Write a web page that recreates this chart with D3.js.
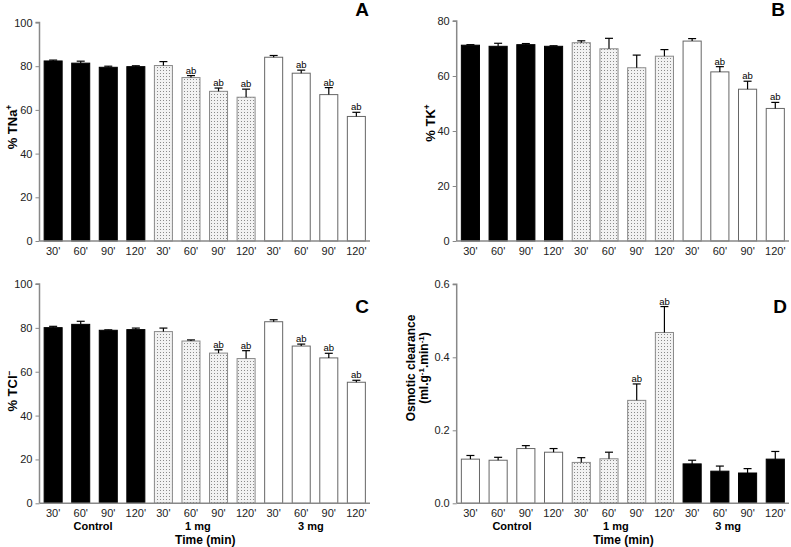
<!DOCTYPE html>
<html><head><meta charset="utf-8">
<script src="https://cdn.jsdelivr.net/npm/d3@7"></script>
<style>
body{margin:0;background:#fff;}
svg text{font-family:"Liberation Sans",Arial,Helvetica,sans-serif;}
</style>
</head><body>
<svg id="chart" width="791" height="547"></svg>
<script>
const timeLabels = ["30'","60'","90'","120'","30'","60'","90'","120'","30'","60'","90'","120'"];
const groupLabels = ["Control","1 mg","3 mg"];
const groupOfBar = [0,0,0,0,1,1,1,1,2,2,2,2];

const tnaMean = [82.4,81.4,79.5,79.8,80.3,74.8,68.5,65.8,84.1,76.8,67.0,57.0];
const tnaSem  = [0.4,0.9,0.5,0.4,1.8,0.9,1.5,3.7,0.8,1.4,3.2,1.9];
const tnaSig  = [0,0,0,0,0,1,1,1,0,1,1,1];

const tkMean = [71.2,70.8,71.4,70.8,72.1,69.9,63.0,67.2,72.7,61.5,55.2,48.2];
const tkSem  = [0.2,1.1,0.4,0.2,0.7,3.8,4.6,2.4,0.9,1.9,2.9,2.2];
const tkSig  = [0,0,0,0,0,0,0,0,0,1,1,1];

const tclMean = [80.1,81.6,78.9,79.2,78.3,74.0,68.5,66.0,82.8,71.7,66.3,55.2];
const tclSem  = [0.6,1.4,0.2,0.7,1.6,0.5,1.5,3.6,0.9,0.9,2.1,0.9];
const tclSig  = [0,0,0,0,0,0,1,1,0,1,1,1];

const oscMean = [0.121,0.118,0.150,0.140,0.112,0.122,0.282,0.468,0.108,0.088,0.083,0.121];
const oscSem  = [0.010,0.008,0.008,0.010,0.013,0.018,0.045,0.071,0.010,0.014,0.012,0.021];
const oscSig  = [0,0,0,0,0,0,1,1,0,0,0,0];

const ticksPct100 = [0,20,40,60,80,100];
const ticksPct80 = [0,20,40,60,80];
const ticksOsc = [0,0.2,0.4,0.6];

const svg = d3.select("#chart");
const defs = svg.append("defs");
const pat = defs.append("pattern").attr("id","dots").attr("patternUnits","userSpaceOnUse")
  .attr("width",3).attr("height",3);
pat.append("rect").attr("width",3).attr("height",3).attr("fill","#f2f2f2");
pat.append("rect").attr("x",1).attr("y",1).attr("width",1).attr("height",1).attr("fill","#8a8a8a");

const styles = {
  black:{fill:"#000",stroke:"#000"},
  dots:{fill:"url(#dots)",stroke:"#8a8a8a"},
  white:{fill:"#fff",stroke:"#666"}
};

function drawPanel(cfg){
  const g = svg.append("g");
  const x = d3.scaleBand().domain(d3.range(12)).range([cfg.x0,cfg.x1]).paddingInner(0.31).paddingOuter(0.15);
  const y = d3.scaleLinear().domain(cfg.domain).range([cfg.yBottom,cfg.yTop]);
  const rows = cfg.mean.map((m,i)=>({i:i,m:m,s:cfg.sem[i],sig:cfg.sig[i],fill:cfg.fills[groupOfBar[i]]}));
  const cx = d=>x(d.i)+x.bandwidth()/2;
  // bars
  g.selectAll("rect.bar").data(rows).join("rect").attr("class","bar")
    .attr("x",d=>x(d.i)+0.5).attr("width",x.bandwidth()-1)
    .attr("y",d=>y(d.m)).attr("height",d=>cfg.yBottom-y(d.m))
    .attr("fill",d=>styles[d.fill].fill)
    .attr("stroke",d=>styles[d.fill].stroke)
    .attr("stroke-width",1);
  // error bars
  const eb = g.selectAll("g.eb").data(rows).join("g").attr("class","eb");
  eb.append("line")
    .attr("x1",cx).attr("x2",cx)
    .attr("y1",d=>y(d.m)).attr("y2",d=>y(d.m+d.s))
    .attr("stroke","#000").attr("stroke-width",1.2);
  eb.append("line")
    .attr("x1",d=>cx(d)-4).attr("x2",d=>cx(d)+4)
    .attr("y1",d=>y(d.m+d.s)).attr("y2",d=>y(d.m+d.s))
    .attr("stroke","#000").attr("stroke-width",1.2);
  // significance
  g.selectAll("text.sig").data(rows.filter(d=>d.sig)).join("text").attr("class","sig")
    .attr("x",cx)
    .attr("y",d=>y(d.m+d.s)-2)
    .attr("text-anchor","middle").attr("font-size",9.5).attr("fill","#000")
    .text("ab");
  // y axis
  const ya = g.append("g").attr("transform",`translate(${cfg.x0},0)`)
    .call(d3.axisLeft(y).tickValues(cfg.ticks).tickSize(4).tickFormat(cfg.fmt));
  ya.select(".domain").attr("stroke","#888").attr("stroke-width",1.5).attr("d",`M-4,${cfg.yTop}H0V${cfg.yBottom}`);
  ya.selectAll(".tick line").attr("stroke","#888");
  ya.selectAll(".tick text").attr("font-size",11).attr("fill","#222").attr("font-family","Liberation Sans, Arial, sans-serif");
  // x axis
  const xa = g.append("g").attr("transform",`translate(0,${cfg.yBottom})`)
    .call(d3.axisBottom(x).tickSize(0).tickPadding(6).tickFormat(i=>timeLabels[i]));
  xa.select(".domain").attr("stroke","#888").attr("stroke-width",1.5).attr("d",`M${cfg.x0},0H${cfg.x1}`);
  xa.selectAll(".tick text").attr("font-size",11).attr("fill","#222").attr("font-family","Liberation Sans, Arial, sans-serif");
  // panel letter
  g.append("text").attr("x",cfg.letterX).attr("y",cfg.letterY).attr("text-anchor","middle")
    .attr("font-size",19).attr("font-weight","bold").attr("fill","#000").text(cfg.letter);
  // y title
  const yt = g.append("text").attr("transform",`translate(${cfg.titleX},${cfg.titleY}) rotate(-90)`)
    .attr("text-anchor","middle").attr("font-size",cfg.titleSize).attr("font-weight","bold").attr("fill","#000");
  cfg.title(yt, g);
  // group labels
  if(cfg.groups){
    const step = x.step();
    cfg.groups.forEach((gx,k)=>{
      g.append("text").attr("x",x(gx.bar)+x.bandwidth()/2+gx.off*step).attr("y",cfg.yBottom+26.5)
        .attr("text-anchor","middle").attr("font-size",11).attr("font-weight","bold").attr("fill","#000")
        .text(groupLabels[k]);
    });
    g.append("text").attr("x",x(5)+x.bandwidth()/2+0.52*step).attr("y",cfg.yBottom+40.5)
      .attr("text-anchor","middle").attr("font-size",12).attr("font-weight","bold").attr("fill","#000")
      .text("Time (min)");
  }
}

function supTitle(main, sup){
  return (t)=>{
    t.append("tspan").text(main);
    t.append("tspan").attr("baseline-shift","super").attr("font-size",8.5).text(sup);
  };
}

drawPanel({x0:39.5,x1:370,yTop:22.5,yBottom:241,domain:[0,100],ticks:ticksPct100,fmt:d3.format("d"),
  mean:tnaMean,sem:tnaSem,sig:tnaSig,fills:["black","dots","white"],letter:"A",letterX:362,letterY:16,
  titleX:17,titleY:127,titleSize:13,title:supTitle("% TNa","+")});
drawPanel({x0:456.7,x1:789,yTop:21,yBottom:241,domain:[0,80],ticks:ticksPct80,fmt:d3.format("d"),
  mean:tkMean,sem:tkSem,sig:tkSig,fills:["black","dots","white"],letter:"B",letterX:778,letterY:16,
  titleX:435,titleY:123,titleSize:13,title:supTitle("% TK","+")});
drawPanel({x0:39.5,x1:370,yTop:284,yBottom:503.3,domain:[0,100],ticks:ticksPct100,fmt:d3.format("d"),
  mean:tclMean,sem:tclSem,sig:tclSig,fills:["black","dots","white"],letter:"C",letterX:362,letterY:313,
  titleX:17,titleY:391,titleSize:13,title:supTitle("% TCl","−"),groups:[{bar:1,off:0.45},{bar:5,off:0.25},{bar:9,off:0.35}]});
drawPanel({x0:456.7,x1:789,yTop:284.3,yBottom:503.3,domain:[0,0.6],ticks:ticksOsc,fmt:d3.format(".1f"),
  mean:oscMean,sem:oscSem,sig:oscSig,fills:["white","dots","black"],letter:"D",letterX:780,letterY:313,
  titleX:415,titleY:368,titleSize:12,groups:[{bar:1,off:0.5},{bar:5,off:0.25},{bar:9,off:0.3}],
  title:(t,g)=>{
    t.append("tspan").attr("x",0).attr("dy",0).text("Osmotic clearance");
    t.append("tspan").attr("x",0).attr("dy",13).text("(ml.g");
    t.append("tspan").attr("baseline-shift","super").attr("font-size",8).text("-1");
    t.append("tspan").text(".min");
    t.append("tspan").attr("baseline-shift","super").attr("font-size",8).text("-1");
    t.append("tspan").text(")");
  }});
</script>
</body></html>
